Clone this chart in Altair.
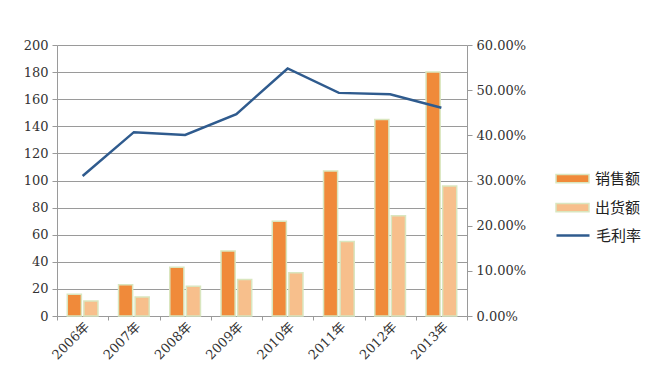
import altair as alt
import pandas as pd

years = ['2006年', '2007年', '2008年', '2009年', '2010年', '2011年', '2012年', '2013年']
sales = [16, 23, 36, 48, 70, 107, 145, 180]
shipments = [11, 14, 22, 27, 32, 55, 74, 96]
margin = [0.310, 0.407, 0.401, 0.447, 0.548, 0.494, 0.491, 0.461]
series = ['销售额', '出货额']
line_name = '毛利率'

bars = pd.DataFrame({
    'year': years * 2,
    'series': [series[0]] * len(years) + [series[1]] * len(years),
    'value': sales + shipments,
})
line_df = pd.DataFrame({'year': years, 'rate': margin, 'name': [line_name] * len(years)})

FONT = 'DejaVu Serif, Noto Sans CJK SC'
GRID = '#9a9a9a'

x_enc = alt.X('year:N', sort=years, title=None,
              scale=alt.Scale(paddingInner=0, paddingOuter=0),
              axis=alt.Axis(labelAngle=-45, tickBand='extent', labelFontSize=13,
                            labelFont=FONT, labelColor='#333', domainColor=GRID,
                            tickColor=GRID, tickSize=4, labelPadding=0, grid=False))

bar_layer = alt.Chart(bars).mark_bar(stroke='#d9e6bf', strokeWidth=1.5).encode(
    x=x_enc,
    xOffset=alt.XOffset('series:N', sort=series,
                        scale=alt.Scale(paddingInner=0.15, paddingOuter=0.62)),
    y=alt.Y('value:Q', title=None, scale=alt.Scale(domain=[0, 200]),
            axis=alt.Axis(values=list(range(0, 201, 20)), grid=True, gridColor=GRID,
                          gridOpacity=1, labelFontSize=13, labelFont=FONT, labelColor='#333',
                          domainColor=GRID, tickColor=GRID, tickSize=5, labelPadding=4)),
    fill=alt.Fill('series:N', sort=series,
                  scale=alt.Scale(domain=series, range=['#f08a3a', '#f7bf8c']),
                  legend=alt.Legend(title=None, orient='none', legendX=498, legendY=126,
                                    symbolType='M-1,-0.25H1V0.25H-1Z', symbolSize=1089,
                                    symbolStrokeColor='#d9e6bf', symbolStrokeWidth=1.5,
                                    labelFont='Noto Sans CJK SC', labelFontSize=15,
                                    labelColor='#222', rowPadding=13, padding=0,
                                    clipHeight=15, labelOffset=5)),
)

line_layer = alt.Chart(line_df).mark_line(strokeWidth=2.5).encode(
    x=alt.X('year:N', sort=years),
    y=alt.Y('rate:Q', title=None, scale=alt.Scale(domain=[0, 0.6]),
            axis=alt.Axis(orient='right', format='.2%',
                          values=[0, 0.1, 0.2, 0.3, 0.4, 0.5, 0.6], grid=False,
                          labelFontSize=13, labelFont=FONT, labelColor='#333',
                          domainColor=GRID, tickColor=GRID, tickSize=5, labelPadding=4)),
    stroke=alt.Stroke('name:N', scale=alt.Scale(domain=[line_name], range=['#2f5b8e']),
                      legend=alt.Legend(title=None, orient='none', legendX=498, legendY=183,
                                        symbolType='stroke', symbolSize=1089,
                                        symbolStrokeWidth=2.5, clipHeight=15,
                                        labelFont='Noto Sans CJK SC', labelFontSize=15,
                                        labelColor='#222', padding=0, labelOffset=5)),
)

chart = alt.layer(bar_layer, line_layer).resolve_scale(
    y='independent', fill='independent', stroke='independent'
).properties(
    width=410, height=271,
    autosize=alt.AutoSizeParams(type='none'),
    padding={'left': 49, 'top': 37, 'right': 190, 'bottom': 49},
    background='white',
).configure_view(stroke=None)

chart.save("out.html", embed_options={"renderer": "svg", "actions": False})
